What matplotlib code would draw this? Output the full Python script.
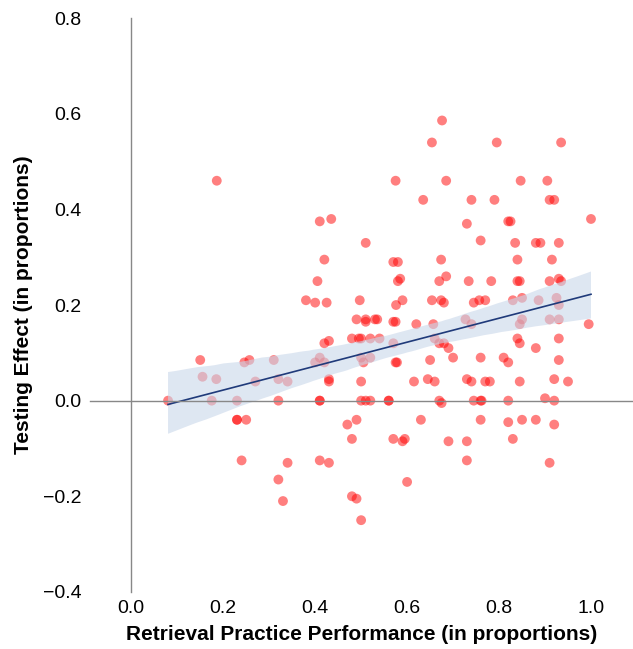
import numpy as np
import matplotlib
matplotlib.use("Agg")
import matplotlib.pyplot as plt
import matplotlib.transforms as mt
import seaborn as sns

# retrieval practice performance (x) and testing effect (y)
x_left = [0.08, 0.15, 0.155, 0.175, 0.186, 0.185, 0.23, 0.23, 0.23, 0.25, 0.24,
          0.246, 0.257, 0.27, 0.31, 0.32, 0.32, 0.32, 0.33, 0.34, 0.34,
          0.38, 0.40, 0.405, 0.41, 0.41, 0.41, 0.41, 0.40, 0.42, 0.42, 0.42,
          0.43, 0.43, 0.425, 0.435, 0.43, 0.43, 0.41, 0.48, 0.49, 0.47, 0.48,
          0.48, 0.49, 0.49, 0.495, 0.497, 0.5, 0.5, 0.5, 0.5, 0.505, 0.5,
          0.51, 0.51, 0.51, 0.51, 0.52, 0.52, 0.53, 0.52]
y_left = [0.0, 0.085, 0.05, 0.0, 0.46, 0.045, 0.0, -0.04, -0.04, -0.04, -0.125,
          0.08, 0.085, 0.04, 0.085, 0.045, 0.0, -0.165, -0.21, 0.04, -0.13,
          0.21, 0.205, 0.25, 0.375, 0.09, 0.0, 0.0, 0.08, 0.08, 0.295, 0.12,
          0.125, 0.04, 0.205, 0.38, 0.045, -0.13, -0.125, -0.2, -0.205, -0.05, -0.08,
          0.13, -0.04, 0.17, 0.13, 0.21, 0.13, 0.09, 0.04, 0.0, 0.08, -0.25,
          0.33, 0.17, 0.165, 0.0, 0.13, 0.0, 0.17, 0.09]
x_right = [0.676, 0.654, 0.795, 0.935, 0.575, 0.685, 0.847, 0.905, 0.635, 0.74,
           0.79, 0.91, 0.92, 0.73, 0.82, 0.825, 1.0, 0.76, 0.835, 0.88, 0.89,
           0.93, 0.57, 0.58, 0.674, 0.84, 0.915, 0.58, 0.585, 0.67, 0.685,
           0.734, 0.783, 0.84, 0.845, 0.91, 0.93, 0.935, 0.576, 0.59, 0.654,
           0.674, 0.68, 0.745, 0.757, 0.77, 0.83, 0.85, 0.886, 0.925, 0.93,
           0.535, 0.57, 0.575, 0.62, 0.657, 0.727, 0.74, 0.85, 0.845, 0.91,
           0.93, 0.995, 0.54, 0.57, 0.66, 0.67, 0.68, 0.69, 0.84, 0.845, 0.88,
           0.93, 0.575, 0.578, 0.65, 0.7, 0.76, 0.81, 0.82, 0.93, 0.615, 0.645,
           0.66, 0.73, 0.74, 0.77, 0.78, 0.845, 0.92, 0.95, 0.56, 0.56, 0.67,
           0.675, 0.745, 0.76, 0.762, 0.82, 0.9, 0.92, 0.63, 0.76, 0.82, 0.85,
           0.88, 0.92, 0.57, 0.59, 0.595, 0.69, 0.73, 0.83, 0.73, 0.91, 0.6]
y_right = [0.586, 0.54, 0.54, 0.54, 0.46, 0.46, 0.46, 0.46, 0.42, 0.42,
           0.42, 0.42, 0.42, 0.37, 0.375, 0.375, 0.38, 0.335, 0.33, 0.33, 0.33,
           0.33, 0.29, 0.29, 0.295, 0.295, 0.295, 0.25, 0.255, 0.25, 0.26,
           0.25, 0.25, 0.25, 0.25, 0.25, 0.255, 0.25, 0.2, 0.21, 0.21,
           0.21, 0.205, 0.205, 0.21, 0.21, 0.21, 0.215, 0.21, 0.215, 0.2,
           0.17, 0.165, 0.165, 0.16, 0.16, 0.17, 0.16, 0.17, 0.16, 0.17,
           0.17, 0.16, 0.13, 0.12, 0.13, 0.12, 0.12, 0.11, 0.13, 0.12, 0.11,
           0.13, 0.08, 0.08, 0.085, 0.09, 0.09, 0.09, 0.08, 0.085, 0.04, 0.045,
           0.04, 0.045, 0.04, 0.04, 0.04, 0.04, 0.045, 0.04, 0.0, 0.0, 0.0,
           -0.005, 0.0, 0.0, 0.0, 0.0, 0.005, 0.0, -0.04, -0.04, -0.045, -0.04,
           -0.04, -0.05, -0.08, -0.085, -0.08, -0.085, -0.085, -0.08, -0.125, -0.13, -0.17]

x = np.array(x_left + x_right)
y = np.array(y_left + y_right)

plt.rcParams['font.family'] = ['Liberation Sans', 'DejaVu Sans']

fig, ax = plt.subplots(figsize=(6.33, 6.49), dpi=100)
sns.regplot(x=x, y=y, ax=ax, ci=95, truncate=True,
            scatter_kws=dict(color='#ff0000', alpha=0.5, s=50, edgecolors='none'),
            line_kws=dict(color='#1f3a7a', lw=1.2), color='#b0c4de')
for coll in ax.collections[1:]:
    coll.set_facecolor('#c9d7ea')
    coll.set_alpha(0.6)

ax.set_xlim(-0.09, 1.09)
ax.set_ylim(-0.4, 0.8)
ax.set_xticks([0.0, 0.2, 0.4, 0.6, 0.8, 1.0])
ax.set_yticks([-0.4, -0.2, 0.0, 0.2, 0.4, 0.6, 0.8])
ax.set_xticklabels(['0.0', '0.2', '0.4', '0.6', '0.8', '1.0'])
ax.set_yticklabels(['\u22120.4', '\u22120.2', '0.0', '0.2', '0.4', '0.6', '0.8'])
ax.tick_params(length=0, labelsize=14, pad=8)
ax.spines['left'].set_position(('data', 0))
ax.spines['bottom'].set_position(('data', 0))
ax.spines['right'].set_visible(False)
ax.spines['top'].set_visible(False)
for s in ('left', 'bottom'):
    ax.spines[s].set_color('#888888')
    ax.spines[s].set_linewidth(1)

# tick labels stay at the frame edges, not on the centred spines
for t in ax.xaxis.get_major_ticks():
    t.label1.set_transform(mt.blended_transform_factory(ax.transData, ax.transAxes))
    t.label1.set_y(-0.015)
for t in ax.yaxis.get_major_ticks():
    t.label1.set_transform(mt.blended_transform_factory(ax.transAxes, ax.transData))
    t.label1.set_x(-0.015)

ax.set_xlabel('Retrieval Practice Performance (in proportions)', fontsize=15,
              fontweight='bold')
ax.set_ylabel('Testing Effect (in proportions)', fontsize=15, fontweight='bold')
ax.xaxis.set_label_coords(0.5, -0.058)
ax.yaxis.set_label_coords(-0.105, 0.5)

fig.subplots_adjust(left=0.142, right=0.999, top=0.972, bottom=0.088)
fig.savefig('out.png')
